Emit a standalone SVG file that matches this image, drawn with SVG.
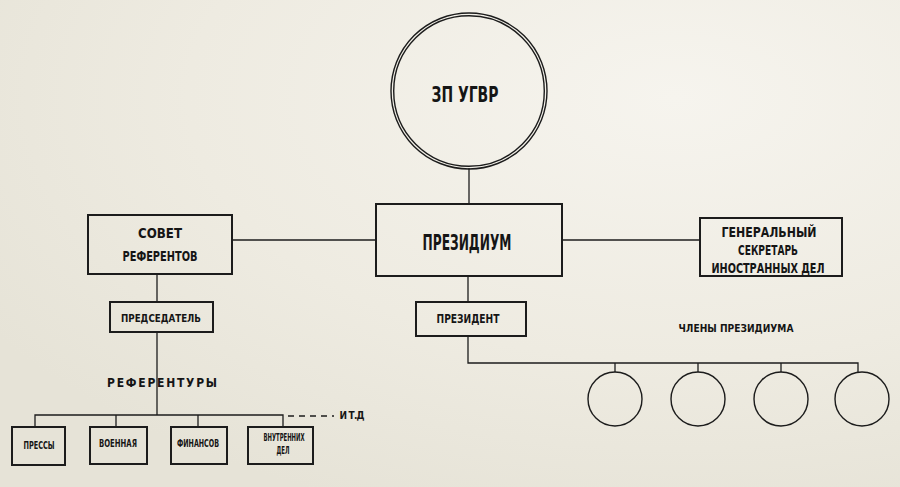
<svg xmlns="http://www.w3.org/2000/svg" width="900" height="487" viewBox="0 0 900 487">
<defs>
<radialGradient id="bg" cx="0.75" cy="0.2" r="0.9">
<stop offset="0" stop-color="#f6f4ee"/>
<stop offset="0.6" stop-color="#eeebe1"/>
<stop offset="1" stop-color="#e6e3d7"/>
</radialGradient>
<style>
.box{fill:none;stroke:#1c1c1c;stroke-width:2}
.thin{fill:none;stroke:#1c1c1c;stroke-width:1.4}
.ln{fill:none;stroke:#1c1c1c;stroke-width:1.3}
.t{font-family:'Liberation Sans Narrow','DejaVu Sans Condensed','Liberation Sans',sans-serif;font-weight:bold;fill:#151515;text-anchor:middle}
.big{font-size:22px}
.pz{font-size:21px}
.mid{font-size:14px}
.md2{font-size:13px}
.sm{font-size:11px}
.rf{font-size:12px}
.xs{font-size:10px}
</style>
</defs>
<rect width="900" height="487" fill="url(#bg)"/>
<g id="connectors">
<line class="ln" x1="469" y1="168" x2="469" y2="204"/>
<line class="ln" x1="232" y1="240" x2="376" y2="240"/>
<line class="ln" x1="562" y1="240" x2="700" y2="240"/>
<line class="ln" x1="157" y1="274" x2="157" y2="302"/>
<line class="ln" x1="157" y1="332" x2="157" y2="415"/>
<polyline class="ln" points="35,427 35,415 283,415 283,427"/>
<line class="ln" x1="116" y1="415" x2="116" y2="427"/>
<line class="ln" x1="198" y1="415" x2="198" y2="427"/>
<line class="ln" x1="288" y1="416" x2="334" y2="416" stroke-dasharray="6,5"/>
<line class="ln" x1="468" y1="276" x2="468" y2="302"/>
<polyline class="ln" points="468,336 468,363 858,363 858,372"/>
<line class="ln" x1="615" y1="363" x2="615" y2="372"/>
<line class="ln" x1="698" y1="363" x2="698" y2="372"/>
<line class="ln" x1="781" y1="363" x2="781" y2="372"/>
</g>
<g id="zp-ugvr">
<circle cx="469" cy="91" r="78" class="thin"/>
<circle cx="469" cy="91" r="75.3" class="thin"/>
<text class="t big" x="465" y="102" textLength="67" lengthAdjust="spacingAndGlyphs">ЗП УГВР</text>
</g>
<g id="prezidium">
<rect class="box" x="376" y="204" width="186" height="72"/>
<text class="t pz" x="467" y="250" textLength="89" lengthAdjust="spacingAndGlyphs">ПРЕЗИДИУМ</text>
</g>
<g id="sovet">
<rect class="box" x="88" y="215" width="144" height="59"/>
<text class="t mid" x="160" y="238" textLength="44" lengthAdjust="spacingAndGlyphs">СОВЕТ</text>
<text class="t mid" x="160" y="261" textLength="75" lengthAdjust="spacingAndGlyphs">РЕФЕРЕНТОВ</text>
</g>
<g id="gensek">
<rect class="box" x="700" y="218" width="142" height="58"/>
<text class="t mid" x="769" y="237" textLength="95" lengthAdjust="spacingAndGlyphs">ГЕНЕРАЛЬНЫЙ</text>
<text class="t mid" x="768" y="255" textLength="60" lengthAdjust="spacingAndGlyphs">СЕКРЕТАРЬ</text>
<text class="t mid" x="768" y="273" textLength="113" lengthAdjust="spacingAndGlyphs">ИНОСТРАННЫХ  ДЕЛ</text>
</g>
<g id="predsedatel">
<rect class="box" x="110" y="302" width="103" height="30"/>
<text class="t sm" x="161" y="322" textLength="80" lengthAdjust="spacingAndGlyphs">ПРЕДСЕДАТЕЛЬ</text>
</g>
<g id="prezident">
<rect class="box" x="416" y="302" width="110" height="34"/>
<text class="t md2" x="468" y="323" textLength="63" lengthAdjust="spacingAndGlyphs">ПРЕЗИДЕНТ</text>
</g>
<g id="label-chleny">
<text class="t sm" x="736" y="332" textLength="115" lengthAdjust="spacingAndGlyphs">ЧЛЕНЫ  ПРЕЗИДИУМА</text>
</g>
<g id="label-referentury">
<text class="t rf" x="162" y="387" textLength="110" lengthAdjust="spacing">РЕФЕРЕНТУРЫ</text>
</g>
<g id="label-itd">
<text class="t xs" x="352" y="419" textLength="25" lengthAdjust="spacing">И Т.Д</text>
</g>
<g id="pressy">
<rect class="box" x="12" y="427" width="53" height="38"/>
<text class="t xs" x="39" y="449" textLength="31" lengthAdjust="spacingAndGlyphs">ПРЕССЫ</text>
</g>
<g id="voennaya">
<rect class="box" x="90" y="427" width="57" height="37"/>
<text class="t xs" x="118" y="447" textLength="38" lengthAdjust="spacingAndGlyphs">ВОЕННАЯ</text>
</g>
<g id="finansov">
<rect class="box" x="171" y="427" width="56" height="37"/>
<text class="t xs" x="198" y="447" textLength="42" lengthAdjust="spacingAndGlyphs">ФИНАНСОВ</text>
</g>
<g id="vnutrennih">
<rect class="box" x="248" y="427" width="65" height="37"/>
<text class="t xs" x="284" y="441" textLength="41" lengthAdjust="spacingAndGlyphs">ВНУТРЕННИХ</text>
<text class="t xs" x="283" y="454" textLength="13" lengthAdjust="spacingAndGlyphs">ДЕЛ</text>
</g>
<g id="member-1"><circle class="thin" cx="615" cy="399" r="27"/></g>
<g id="member-2"><circle class="thin" cx="698" cy="399" r="27"/></g>
<g id="member-3"><circle class="thin" cx="781" cy="399" r="27"/></g>
<g id="member-4"><circle class="thin" cx="862" cy="399" r="27"/></g>
</svg>
